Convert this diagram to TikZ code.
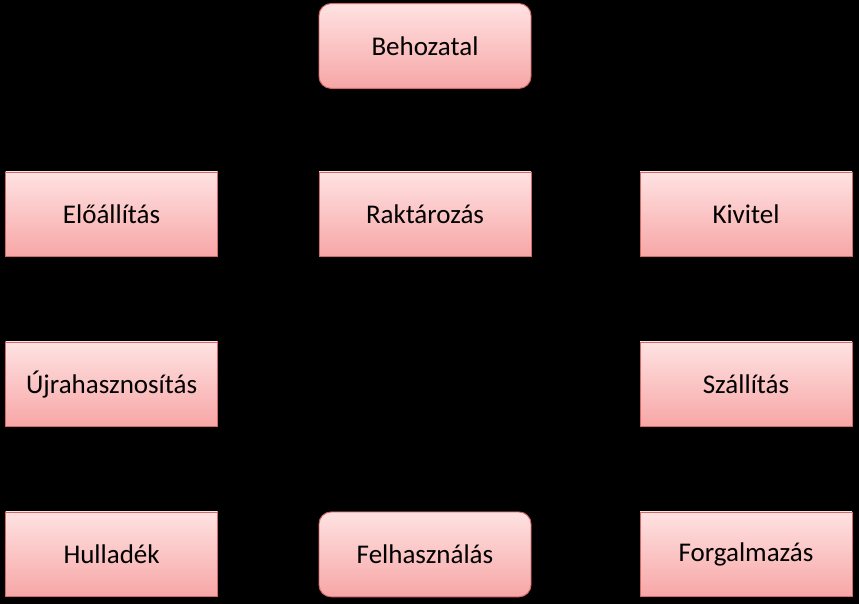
\documentclass[tikz,border=0pt]{standalone}
\usepackage{fontspec}
\setmainfont{Carlito}
\usepackage{tikz}
\usetikzlibrary{arrows.meta}
\definecolor{boxtop}{HTML}{FFE2E2}
\definecolor{boxbot}{HTML}{F7A6A6}
\definecolor{boxline}{HTML}{D46A68}
\pgfdeclarelayer{bglayer}
\pgfdeclarelayer{edgelayer}
\pgfdeclarelayer{nodelayer}
\pgfsetlayers{bglayer,edgelayer,nodelayer,main}
\tikzstyle{none}=[inner sep=0pt]
\tikzstyle{box}=[rectangle,top color=boxtop,bottom color=boxbot,draw=boxline,line width=0.7pt,minimum width=5.3cm,minimum height=2.12cm,inner sep=0pt,font=\fontsize{19.2}{23}\selectfont]
\tikzstyle{rbox}=[box,rounded corners=0.3cm]
\tikzstyle{arrow}=[-{Latex[length=5pt,width=4pt]},draw=black,line width=1pt]
\begin{document}
\begin{tikzpicture}
	\begin{pgfonlayer}{bglayer}
		\fill [black] (0, 0) rectangle (21.475, 15.1);
	\end{pgfonlayer}
	\begin{pgfonlayer}{nodelayer}
		\node [style=rbox] (0) at (10.625, 13.95) {Behozatal};
		\node [style=box] (3) at (2.79, 9.74) {Előállítás};
		\node [style=box] (4) at (10.625, 9.74) {Raktározás};
		\node [style=box] (5) at (18.65, 9.74) {Kivitel};
		\node [style=box] (6) at (2.79, 5.49) {Újrahasznosítás};
		\node [style=box] (7) at (18.65, 5.49) {Szállítás};
		\node [style=box] (8) at (2.79, 1.24) {Hulladék};
		\node [style=rbox] (9) at (10.625, 1.24) {Felhasználás};
		\node [style=box] (10) at (18.65, 1.24) {Forgalmazás};
	\end{pgfonlayer}
	\begin{pgfonlayer}{edgelayer}
		\draw [style=arrow] (4) to (0);
		\draw [style=arrow] (4) to (3);
		\draw [style=arrow] (5) to (4);
		\draw [style=arrow] (3) to (6);
		\draw [style=arrow] (6) to (8);
		\draw [style=arrow] (8) to (9);
		\draw [style=arrow] (9) to (10);
		\draw [style=arrow] (10) to (7);
		\draw [style=arrow] (4) |- (7);
	\end{pgfonlayer}
\end{tikzpicture}
\end{document}
